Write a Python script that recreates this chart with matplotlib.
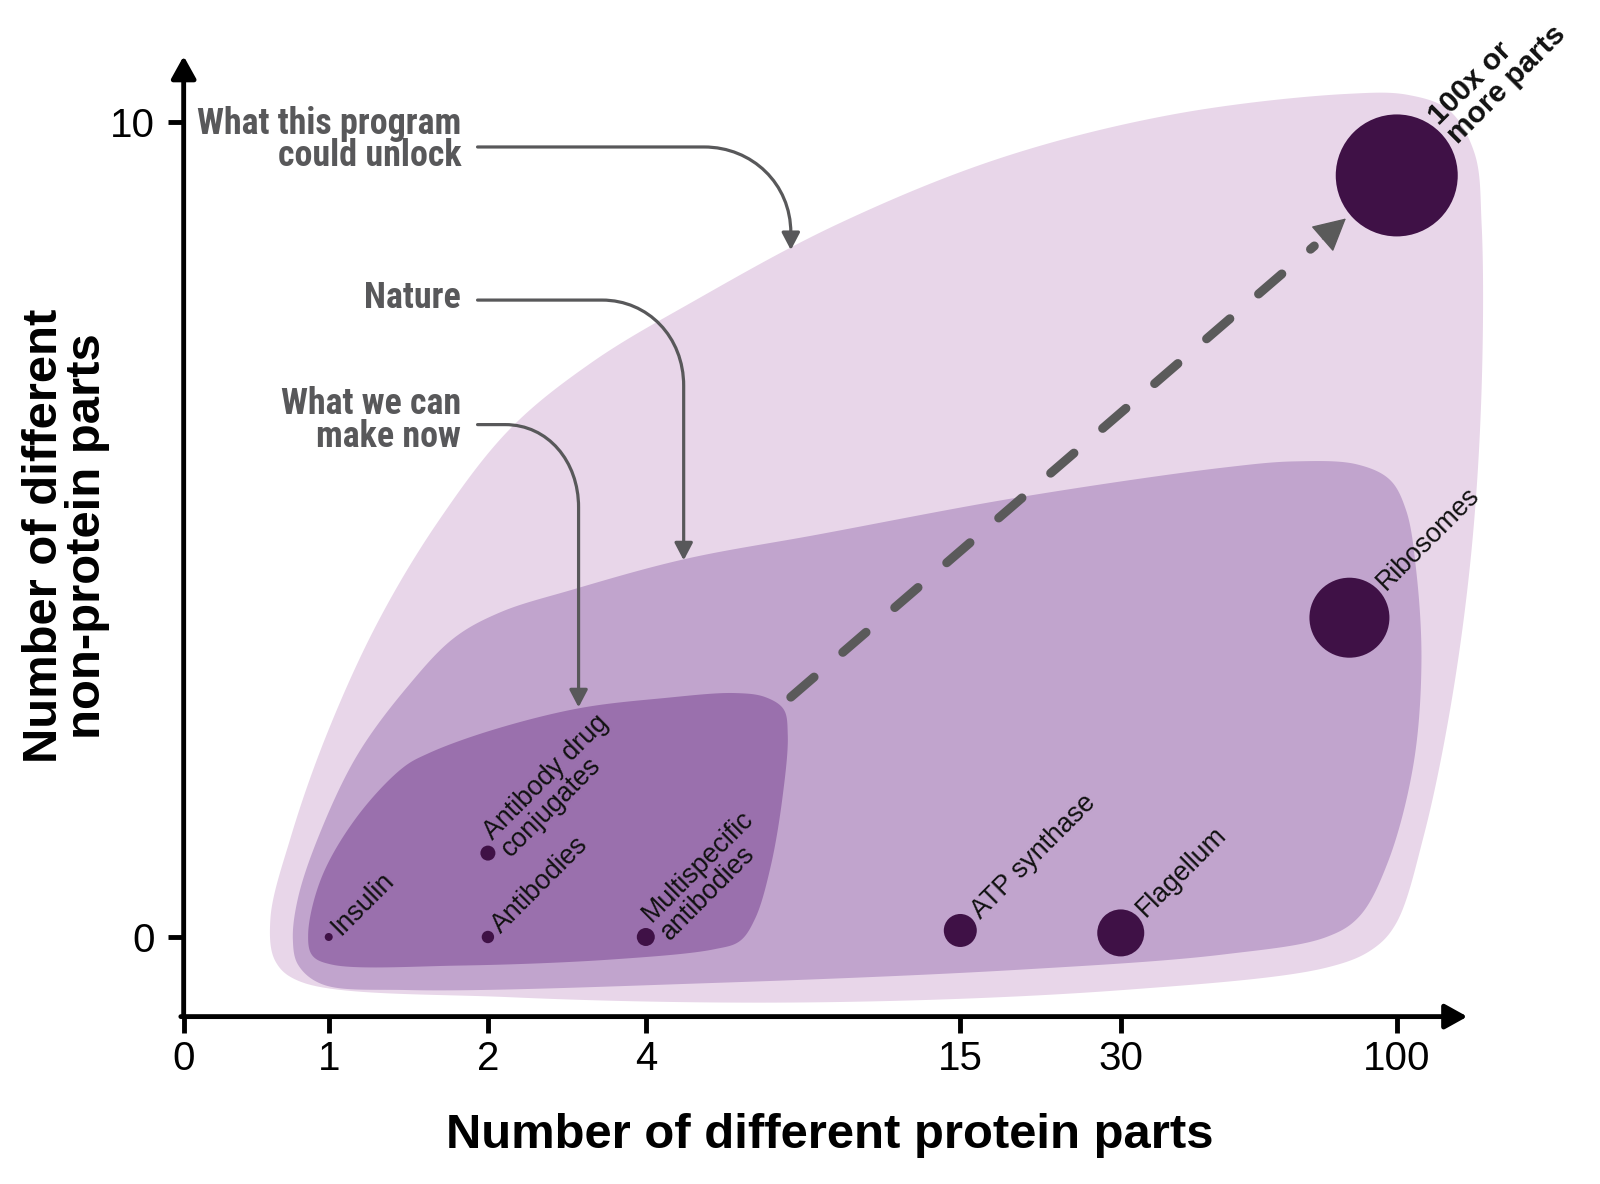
import numpy as np
import matplotlib
matplotlib.use("Agg")
import matplotlib.pyplot as plt
from matplotlib.path import Path
from matplotlib.patches import Polygon, FancyArrowPatch
from matplotlib import font_manager as fm

# ---------------- data ----------------
x_tick_values = [0, 1, 2, 4, 15, 30, 100]
x_tick_labels = ["0", "1", "2", "4", "15", "30", "100"]
y_tick_values = [0, 10]
y_tick_labels = ["0", "10"]

molecule_names = ["Insulin", "Antibodies", "Antibody drug\nconjugates",
                  "Multispecific\nantibodies", "ATP synthase", "Flagellum",
                  "Ribosomes", "100x or\nmore parts"]
protein_parts = [1, 2, 2, 4, 15, 30, 88, 100]
nonprotein_parts = [0, 0, 1.03, 0, 0.08, 0.05, 3.92, 9.35]

region_labels = ["What this program\ncould unlock", "Nature", "What we can\nmake now"]

# ---------------- styles ----------------
dot_radius_px = [4, 6.2, 7.5, 9, 16.5, 23.5, 40, 61]
label_bold = [False, False, False, False, False, False, False, True]
DOT_COLOR = "#3f1146"
C_LIGHT, C_MID, C_DARK = "#e8d6e9", "#c1a4cd", "#9a70ad"
GREY = "#58585a"
DASH_GREY = "#5a5a5a"

W, H = 1568.0, 1160.0          # reference frame used for layout
AX_L, AX_R, AX_B, AX_T = 180.0, 1438.0, 996.0, 55.0

available = {f.name for f in fm.fontManager.ttflist}
narrow_candidates = ["Roboto Condensed", "Archivo Narrow", "PT Sans Narrow",
                     "Liberation Sans Narrow"]
NARROW = next((n for n in narrow_candidates if n in available), "Liberation Sans")

plt.rcParams["font.family"] = ["Liberation Sans", "DejaVu Sans"]

fig = plt.figure(figsize=(16, 11.84), dpi=100)
ax = fig.add_axes([AX_L / W, 1 - AX_B / H, (AX_R - AX_L) / W, (AX_B - AX_T) / H])
ax.patch.set_alpha(0)

# custom non-uniform x scale (positions of the ticks along the axis)
scale_values = [0, 1, 2, 4, 15, 30, 100, 120]
scale_fracs = [0, 0.113, 0.237, 0.36, 0.605, 0.73, 0.945, 1.0]
fwd = lambda v: np.interp(v, scale_values, scale_fracs)
inv = lambda p: np.interp(p, scale_fracs, scale_values)
ax.set_xscale("function", functions=(fwd, inv))
ax.set_xlim(0, 120)
y0px, ppu = 918.0, 79.8
ax.set_ylim(-(AX_B - y0px) / ppu, (y0px - AX_T) / ppu)


def A(xp, yp):
    return ((xp - AX_L) / (AX_R - AX_L), (AX_B - yp) / (AX_B - AX_T))


def catmull_rom_closed(pts, n=24, alpha=0.5):
    P = np.asarray(pts, float)
    N = len(P)
    out = []
    for i in range(N):
        p0, p1, p2, p3 = P[(i - 1) % N], P[i], P[(i + 1) % N], P[(i + 2) % N]
        t0 = 0.0
        t1 = t0 + np.linalg.norm(p1 - p0) ** alpha
        t2 = t1 + np.linalg.norm(p2 - p1) ** alpha
        t3 = t2 + np.linalg.norm(p3 - p2) ** alpha
        t = np.linspace(t1, t2, n, endpoint=False)[:, None]
        A1 = (t1 - t) / (t1 - t0) * p0 + (t - t0) / (t1 - t0) * p1
        A2 = (t2 - t) / (t2 - t1) * p1 + (t - t1) / (t2 - t1) * p2
        A3 = (t3 - t) / (t3 - t2) * p2 + (t - t2) / (t3 - t2) * p3
        B1 = (t2 - t) / (t2 - t0) * A1 + (t - t0) / (t2 - t0) * A2
        B2 = (t3 - t) / (t3 - t1) * A2 + (t - t1) / (t3 - t1) * A3
        out.append((t2 - t) / (t2 - t1) * B1 + (t - t1) / (t2 - t1) * B2)
    return np.vstack(out)


blob_light = [(265, 900), (270, 942), (295, 962), (500, 977), (800, 982), (1100, 970),
              (1300, 948), (1345, 930), (1368, 905), (1395, 820), (1422, 690),
              (1442, 540), (1452, 380), (1452, 220), (1445, 150), (1420, 108),
              (1380, 93), (1320, 92), (1150, 112), (980, 155), (820, 220),
              (680, 295), (580, 355), (500, 420), (430, 510), (370, 610),
              (320, 720), (285, 820)]
blob_mid = [(287, 920), (292, 945), (315, 964), (400, 970), (700, 963), (1000, 950),
            (1200, 935), (1300, 918), (1332, 898), (1360, 845), (1385, 750),
            (1393, 650), (1388, 560), (1378, 500), (1362, 470), (1330, 455),
            (1270, 452), (1200, 458), (1000, 487), (800, 524), (670, 548),
            (560, 578), (490, 600), (445, 625), (400, 672), (350, 740),
            (312, 820), (292, 880)]
blob_dark = [(302, 915), (306, 936), (325, 945), (450, 946), (600, 940), (700, 930),
             (725, 922), (740, 900), (755, 850), (767, 780), (772, 720), (768, 695),
             (750, 683), (720, 679), (650, 684), (567, 694), (480, 716), (420, 738),
             (395, 752), (350, 800), (315, 860)]

for pts, col, z in [(blob_light, C_LIGHT, 1), (blob_mid, C_MID, 2), (blob_dark, C_DARK, 3)]:
    curve = catmull_rom_closed(pts)
    axc = np.array([A(x, y) for x, y in curve])
    ax.add_patch(Polygon(axc, closed=True, facecolor=col, edgecolor="none",
                         transform=ax.transAxes, clip_on=False, zorder=z))

# axes lines with arrow heads
ax.spines[:].set_visible(False)
for start, end in [((-0.0022, 0), (1, 0)), ((0, 0), (0, 1))]:
    ax.add_patch(FancyArrowPatch(start, end, transform=ax.transAxes,
                                 arrowstyle="-|>,head_length=1.35,head_width=0.75",
                                 mutation_scale=10, lw=3.5, color="black",
                                 shrinkA=0, shrinkB=0, clip_on=False, zorder=6))

ax.set_xticks(x_tick_values, x_tick_labels)
ax.set_yticks(y_tick_values, y_tick_labels)
ax.tick_params(axis="both", length=11.5, width=3.5, labelsize=29, color="black")
ax.tick_params(axis="x", pad=5)
ax.tick_params(axis="y", pad=9)
ax.minorticks_off()

# leader arrows
leaders = [
    ([(468, 144), (690, 144), (737, 144), (775, 180), (775, 228), (775, 245)],
     [Path.MOVETO, Path.LINETO, Path.CURVE4, Path.CURVE4, Path.CURVE4, Path.LINETO]),
    ([(468, 294), (590, 294), (635, 294), (670, 330), (670, 378), (670, 549)],
     [Path.MOVETO, Path.LINETO, Path.CURVE4, Path.CURVE4, Path.CURVE4, Path.LINETO]),
    ([(468, 416), (495, 416), (537, 416), (567, 452), (567, 497), (567, 693)],
     [Path.MOVETO, Path.LINETO, Path.CURVE4, Path.CURVE4, Path.CURVE4, Path.LINETO]),
]
for verts, codes in leaders:
    pth = Path([A(x, y) for x, y in verts], codes)
    ax.add_patch(FancyArrowPatch(path=pth, transform=ax.transAxes,
                                 arrowstyle="-|>,head_length=1.05,head_width=0.55",
                                 mutation_scale=10, lw=2.3, color=GREY,
                                 clip_on=False, zorder=4))

# region labels: fit the condensed bold face to the reference line width
renderer = fig.canvas.get_renderer()
probe = fig.text(0, 0, "What this program", fontsize=26, fontweight="bold",
                 family=[NARROW, "Liberation Sans"])
probe_w = probe.get_window_extent(renderer).width
probe.remove()
target_w = (452 - 192) * fig.bbox.width / W
region_fs = 26 * target_w / probe_w

label_pos = [(452, 137), (452, 292), (452, 412)]
for txt, (xp, yp) in zip(region_labels, label_pos):
    ax.text(*A(xp, yp), txt, transform=ax.transAxes, ha="right", va="center",
            multialignment="right", fontsize=region_fs, fontweight="bold",
            family=[NARROW, "Liberation Sans", "DejaVu Sans"], color=GREY,
            linespacing=0.86, zorder=6)

# dashed growth arrow
ds, de, tip = A(775, 683), A(1288, 241), A(1319, 214)
ax.plot([ds[0], de[0]], [ds[1], de[1]], transform=ax.transAxes, color=DASH_GREY,
        lw=6.5, dashes=(3.4, 4.2), solid_capstyle="round", dash_capstyle="round",
        clip_on=False, zorder=4)
ax.add_patch(FancyArrowPatch(A(1296, 234), tip, transform=ax.transAxes,
                             arrowstyle="-|>,head_length=2.1,head_width=1.1",
                             mutation_scale=10, lw=1.0, color=DASH_GREY,
                             shrinkA=0, shrinkB=0, clip_on=False, zorder=4))

# dots and their labels
px2pt = 72.0 / fig.dpi
sizes = [(2 * r * px2pt) ** 2 for r in dot_radius_px]
ax.scatter(protein_parts, nonprotein_parts, s=sizes, color=DOT_COLOR,
           linewidths=0, zorder=5, clip_on=False)
for name, x, y, r, b in zip(molecule_names, protein_parts, nonprotein_parts,
                            dot_radius_px, label_bold):
    d = (r + (4 if b else 5)) * px2pt
    ax.annotate(name, (x, y), xytext=(d / np.sqrt(2), d / np.sqrt(2)),
                textcoords="offset points", rotation=45, rotation_mode="anchor",
                ha="left", va="center", multialignment="left",
                fontsize=21.5 if b else 19.3, fontweight="bold" if b else "normal",
                color="#111111", linespacing=0.95, annotation_clip=False, zorder=6)

# axis titles
fig.text(813 / W, 1 - 1112 / H, "Number of different protein parts", ha="center",
         va="center", fontsize=35.3, fontweight="bold")
fig.text(65 / W, 1 - 525 / H, "Number of different\nnon-protein parts", rotation=90,
         ha="center", va="center", multialignment="center", fontsize=35.3,
         fontweight="bold", linespacing=0.95)

fig.savefig("out.png", dpi=100)
